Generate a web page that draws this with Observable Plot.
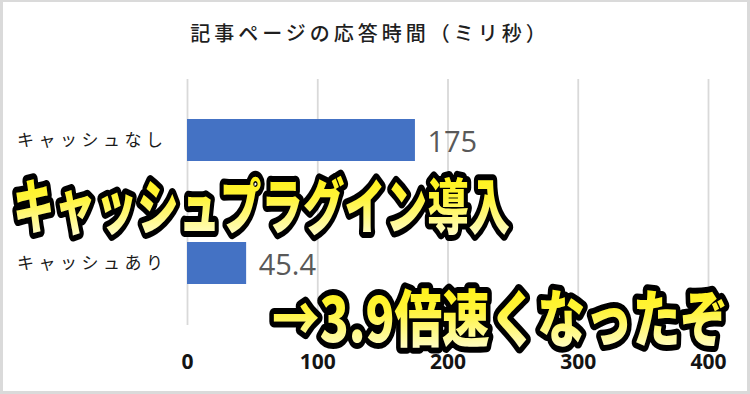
<!DOCTYPE html>
<html>
<head>
<meta charset="utf-8">
<script src="https://cdn.jsdelivr.net/npm/d3@7"></script>
<script src="https://cdn.jsdelivr.net/npm/@observablehq/plot@0.6"></script>
<style>
  html, body { margin: 0; padding: 0; background: #fff; }
  #wrap { position: relative; width: 750px; height: 394px; overflow: hidden; background: #fff; }
  #wrap svg.plot { position: absolute; left: 0; top: 0; }
  #title { position: absolute; left: 0; width: 740px; text-align: center; top: 19px;
    font-family: "Noto Sans CJK JP", sans-serif; font-size: 20px; font-weight: 500;
    letter-spacing: 4px; color: #1f1f1f; white-space: nowrap; line-height: 28px; }
  #border { position: absolute; left: 0; top: 0; width: 750px; height: 394px; box-sizing: border-box;
    border-style: solid; border-color: #dadada; border-width: 2px 3px 3px 3px; pointer-events: none; }
  #overlay { position: absolute; left: 0; top: 0; }
</style>
</head>
<body>
<div id="wrap">
  <div id="title"></div>
</div>
<script>
// ---- data ----
const chartTitle = "記事ページの応答時間（ミリ秒）";
const categories = ["キャッシュなし", "キャッシュあり"];
const values = [175, 45.4];
const valueLabels = ["175", "45.4"];
const xTicks = [0, 100, 200, 300, 400];
const headline1 = "キャッシュプラグイン導入";
const headline2 = "→3.9倍速くなったぞ";

const rows = categories.map((c, i) => ({category: c, value: values[i], label: valueLabels[i]}));

document.getElementById("title").textContent = chartTitle;

const chart = Plot.plot({
  width: 750,
  height: 394,
  marginTop: 79,
  marginBottom: 69,
  marginLeft: 187,
  marginRight: 42,
  style: {background: "transparent", overflow: "visible"},
  x: {domain: [0, 400], ticks: xTicks, label: null},
  y: {domain: categories, paddingInner: 0.656, paddingOuter: 0.328, label: null},
  marks: [
    Plot.gridX(xTicks, {stroke: "#d9d9d9", strokeOpacity: 1, strokeWidth: 1.8}),
    Plot.axisX({ticks: xTicks, tickSize: 0, tickPadding: 29, fontSize: 21, fontWeight: "bold",
      fontFamily: "Open Sans, sans-serif", fill: "#141414", label: null}),
    Plot.axisY({tickSize: 0, tickPadding: 20, fontSize: 17, fill: "#1a1a1a",
      fontFamily: "Noto Sans CJK JP, sans-serif", label: null}),
    Plot.barX(rows, {x: "value", y: "category", fill: "#4472C4"}),
    Plot.text(rows, {x: "value", y: "category", text: "label", dx: 12, dy: 2, textAnchor: "start",
      fontSize: 29, fill: "#595959", fontFamily: "Open Sans, sans-serif"})
  ]
});
chart.classList.add("plot");
d3.select(chart).selectAll("[aria-label='y-axis tick label'] text").style("letter-spacing", "4.5px");
document.getElementById("wrap").appendChild(chart);

// ---- overlay headline texts ----
const ov = d3.select("#wrap").append("svg").attr("id", "overlay").attr("width", 750).attr("height", 394);
const defs = ov.append("defs");
const grad = defs.append("linearGradient").attr("id", "yg").attr("x1", 0).attr("y1", 0).attr("x2", 0).attr("y2", 1);
grad.append("stop").attr("offset", "0").attr("stop-color", "#fff000");
grad.append("stop").attr("offset", "0.45").attr("stop-color", "#fff43a");
grad.append("stop").attr("offset", "1").attr("stop-color", "#fffff0");

const heads = [
  {text: headline1, x: 13, y: 229, len: 497, size: 60},
  {text: headline2, x: 272, y: 342, len: 456, size: 62}
];
for (const h of heads) {
  ov.append("text")
    .attr("x", h.x).attr("y", h.y)
    .attr("textLength", h.len).attr("lengthAdjust", "spacingAndGlyphs")
    .attr("font-family", "Noto Sans CJK JP, sans-serif")
    .attr("font-weight", 900)
    .attr("font-size", h.size)
    .attr("fill", "url(#yg)")
    .attr("stroke", "#000")
    .attr("stroke-width", 12)
    .attr("stroke-linejoin", "round")
    .attr("paint-order", "stroke")
    .text(h.text);
}
d3.select("#wrap").append("div").attr("id", "border");
</script>
</body>
</html>
